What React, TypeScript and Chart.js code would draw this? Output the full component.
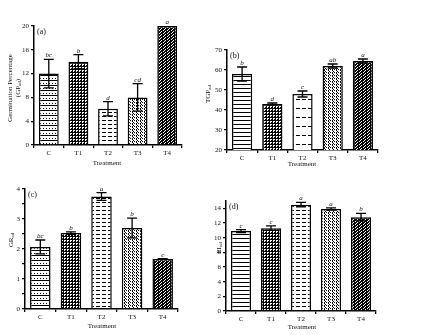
import React, { useEffect, useRef } from 'react';
import { Chart, registerables } from 'chart.js';
Chart.register(...registerables);

const CATEGORIES = ['C', 'T1', 'T2', 'T3', 'T4'];

const GP_VALUES = [12, 14, 6.1, 8, 20];
const GP_ERRORS = [2.4, 1.2, 1.2, 2.3, 0];
const GP_LETTERS = ['bc', 'b', 'd', 'cd', 'a'];
const GP_TICKS = [0, 4, 8, 12, 16, 20];

const TGP_VALUES = [58, 43, 48, 62, 64.5];
const TGP_ERRORS = [3.5, 0.5, 1.5, 1, 1];
const TGP_LETTERS = ['b', 'd', 'c', 'ab', 'a'];
const TGP_TICKS = [20, 30, 40, 50, 60, 70];

const GR_VALUES = [2.07, 2.53, 3.75, 2.7, 1.67];
const GR_ERRORS = [0.23, 0.04, 0.13, 0.33, 0.01];
const GR_LETTERS = ['bc', 'b', 'a', 'b', 'c'];
const GR_TICKS = [0, 0.5, 1, 1.5, 2, 2.5, 3, 3.5, 4];
const GR_TICK_LABELS = ['0', '', '1', '', '2', '', '3', '', '4'];

const EI_VALUES = [10.9, 11.3, 14.5, 13.9, 12.8];
const EI_ERRORS = [0.2, 0.3, 0.3, 0.15, 0.5];
const EI_LETTERS = ['c', 'c', 'a', 'a', 'b'];
const EI_TICKS = [0, 2, 4, 6, 8, 10, 12, 14];

const FONT = '"Liberation Serif", "DejaVu Serif", serif';

type Kind = 'hlines' | 'hlinesdense' | 'checker' | 'dashes' | 'dashessparse' | 'dots' | 'weave';

function makePattern(kind: Kind): CanvasPattern | string {
  const c = document.createElement('canvas');
  const ctx = c.getContext('2d');
  if (!ctx) return '#fff';
  const set = (w: number, h: number) => {
    c.width = w;
    c.height = h;
    ctx.fillStyle = '#fff';
    ctx.fillRect(0, 0, w, h);
    ctx.fillStyle = '#000';
  };
  switch (kind) {
    case 'hlines':
      set(6, 5);
      ctx.fillRect(0, 0, 6, 1);
      ctx.fillRect(1, 3, 1, 1);
      ctx.fillRect(4, 3, 1, 1);
      break;
    case 'hlinesdense':
      set(6, 4);
      ctx.fillRect(0, 0, 6, 1);
      break;
    case 'checker':
      set(3, 3);
      ctx.fillRect(0, 0, 3, 1);
      ctx.fillRect(0, 0, 1, 3);
      ctx.fillRect(2, 2, 1, 1);
      break;
    case 'dashes':
      set(6, 4);
      ctx.fillRect(0, 0, 4, 1);
      break;
    case 'dashessparse':
      set(6, 9);
      ctx.fillRect(0, 0, 4, 1);
      break;
    case 'dots':
      set(4, 3);
      ctx.fillRect(0, 0, 1, 1);
      ctx.fillRect(2, 0, 1, 1);
      ctx.fillRect(1, 2, 1, 1);
      ctx.fillRect(0, 1, 1, 1);
      break;
    case 'weave':
      set(4, 3);
      ctx.fillRect(0, 0, 3, 1);
      ctx.fillRect(2, 1, 2, 1);
      ctx.fillRect(0, 1, 1, 1);
      ctx.fillRect(1, 2, 3, 1);
      break;
  }
  return ctx.createPattern(c, 'repeat') || '#fff';
}

type TitlePart = { t: string; sub?: boolean };

interface PanelProps {
  left: number;
  top: number;
  width: number;
  height: number;
  area: { left: number; right: number; top: number; bottom: number };
  values: number[];
  errors: number[];
  letters: string[];
  ticks: number[];
  tickLabels?: string[];
  min: number;
  max: number;
  label: string;
  yTitleLines: { x: number; y: number; parts: TitlePart[] }[];
  xTitle: { x: number; y: number };
  patterns: Kind[];
}

function drawParts(ctx: CanvasRenderingContext2D, parts: TitlePart[], size: number) {
  let total = 0;
  const widths = parts.map((p) => {
    ctx.font = `${p.sub ? size - 2 : size}px ${FONT}`;
    const w = ctx.measureText(p.t).width;
    total += w;
    return w;
  });
  let x = -total / 2;
  parts.forEach((p, i) => {
    ctx.font = `${p.sub ? size - 2 : size}px ${FONT}`;
    ctx.fillText(p.t, x, p.sub ? 2 : 0);
    x += widths[i];
  });
}

function Panel(props: PanelProps) {
  const ref = useRef<HTMLCanvasElement | null>(null);
  useEffect(() => {
    if (!ref.current) return;
    const p = props;
    const annot = {
      id: 'annot',
      afterDatasetsDraw(chart: any) {
        const ctx: CanvasRenderingContext2D = chart.ctx;
        const ys = chart.scales.y;
        const meta = chart.getDatasetMeta(0);
        ctx.save();
        ctx.strokeStyle = '#000';
        ctx.fillStyle = '#111';
        ctx.lineWidth = 1.3;
        meta.data.forEach((bar: any, i: number) => {
          const v = p.values[i];
          const e = p.errors[i];
          const x = bar.x;
          const yt = ys.getPixelForValue(v + e);
          const yb = ys.getPixelForValue(v - e);
          if (e > 0) {
            ctx.beginPath();
            ctx.moveTo(x, yt);
            ctx.lineTo(x, yb);
            ctx.moveTo(x - 5, yt);
            ctx.lineTo(x + 5, yt);
            ctx.moveTo(x - 5, yb);
            ctx.lineTo(x + 5, yb);
            ctx.stroke();
          }
          ctx.font = `italic 7px ${FONT}`;
          ctx.textAlign = 'center';
          ctx.textBaseline = 'alphabetic';
          ctx.fillText(p.letters[i], x, yt - 2);
        });
        const ca = chart.chartArea;
        ctx.font = `8px ${FONT}`;
        ctx.textAlign = 'left';
        ctx.textBaseline = 'top';
        ctx.fillText(p.label, ca.left + 3, ca.top + 2);
        ctx.textAlign = 'left';
        ctx.textBaseline = 'middle';
        p.yTitleLines.forEach((ln) => {
          ctx.save();
          ctx.translate(ln.x, ln.y);
          ctx.rotate(-Math.PI / 2);
          drawParts(ctx, ln.parts, 7);
          ctx.restore();
        });
        ctx.font = `7px ${FONT}`;
        ctx.textAlign = 'center';
        ctx.fillText('Treatment', p.xTitle.x, p.xTitle.y);
        ctx.restore();
      },
    };
    const chart = new Chart(ref.current, {
      type: 'bar',
      data: {
        labels: CATEGORIES,
        datasets: [
          {
            data: p.values,
            backgroundColor: p.patterns.map((k) => makePattern(k)) as any,
            borderColor: '#000',
            borderWidth: 1.5,
            barPercentage: 0.67,
            categoryPercentage: 1,
          },
        ],
      },
      options: {
        animation: false,
        responsive: false,
        maintainAspectRatio: false,
        events: [],
        layout: {
          padding: {
            left: 0,
            top: p.area.top,
            right: p.width - p.area.right,
            bottom: 0,
          },
        },
        plugins: { legend: { display: false }, tooltip: { enabled: false } },
        scales: {
          x: {
            offset: true,
            grid: { display: true, drawOnChartArea: false, drawTicks: true, tickLength: 3, color: '#000', lineWidth: 1.3 },
            border: { display: true, color: '#000', width: 1.5 },
            ticks: { font: { family: FONT, size: 7 }, color: '#111', padding: 1, maxRotation: 0 },
            afterFit: (s: any) => {
              s.height = p.height - p.area.bottom;
            },
          },
          y: {
            min: p.min,
            max: p.max,
            grid: { display: true, drawOnChartArea: false, drawTicks: true, tickLength: 3, color: '#000', lineWidth: 1.3 },
            border: { display: true, color: '#000', width: 1.5 },
            ticks: {
              font: { family: FONT, size: 7 },
              color: '#111',
              padding: 2,
              callback: (val: any, idx: number) =>
                p.tickLabels ? p.tickLabels[idx] : String(p.ticks[idx]),
            },
            afterBuildTicks: (s: any) => {
              s.ticks = p.ticks.map((v) => ({ value: v }));
            },
            afterFit: (s: any) => {
              s.width = p.area.left;
            },
          },
        },
      },
      plugins: [annot],
    });
    return () => chart.destroy();
  }, []);
  return (
    <canvas
      ref={ref}
      width={props.width}
      height={props.height}
      style={{ position: 'absolute', left: props.left, top: props.top, width: props.width, height: props.height }}
    />
  );
}

export default function App() {
  return (
    <div style={{ position: 'absolute', left: 0, top: 0, width: 444, height: 335, background: '#fff' }}>
      <Panel
        left={0}
        top={0}
        width={200}
        height={170}
        area={{ left: 34, right: 182, top: 26, bottom: 145 }}
        values={GP_VALUES}
        errors={GP_ERRORS}
        letters={GP_LETTERS}
        ticks={GP_TICKS}
        min={0}
        max={20}
        label="(a)"
        yTitleLines={[
          { x: 10, y: 88, parts: [{ t: 'Germination Percentage' }] },
          { x: 18, y: 88, parts: [{ t: '(GP' }, { t: 'ad', sub: true }, { t: ')' }] },
        ]}
        xTitle={{ x: 107, y: 163 }}
        patterns={['hlines', 'checker', 'dashes', 'dots', 'weave']}
      />
      <Panel
        left={200}
        top={0}
        width={244}
        height={170}
        area={{ left: 27, right: 178, top: 50, bottom: 150 }}
        values={TGP_VALUES}
        errors={TGP_ERRORS}
        letters={TGP_LETTERS}
        ticks={TGP_TICKS}
        min={20}
        max={70}
        label="(b)"
        yTitleLines={[{ x: 8, y: 94, parts: [{ t: 'TGP' }, { t: 'ad', sub: true }] }]}
        xTitle={{ x: 102, y: 164 }}
        patterns={['hlinesdense', 'checker', 'dashessparse', 'dots', 'weave']}
      />
      <Panel
        left={0}
        top={170}
        width={200}
        height={165}
        area={{ left: 25, right: 178, top: 19, bottom: 139 }}
        values={GR_VALUES}
        errors={GR_ERRORS}
        letters={GR_LETTERS}
        ticks={GR_TICKS}
        tickLabels={GR_TICK_LABELS}
        min={0}
        max={4}
        label="(c)"
        yTitleLines={[{ x: 11, y: 70, parts: [{ t: 'GR' }, { t: 'ad', sub: true }] }]}
        xTitle={{ x: 102, y: 156 }}
        patterns={['hlines', 'checker', 'dashes', 'dots', 'weave']}
      />
      <Panel
        left={200}
        top={170}
        width={244}
        height={165}
        area={{ left: 26, right: 176, top: 31, bottom: 141 }}
        values={EI_VALUES}
        errors={EI_ERRORS}
        letters={EI_LETTERS}
        ticks={EI_TICKS}
        min={0}
        max={15}
        label="(d)"
        yTitleLines={[{ x: 19, y: 78, parts: [{ t: 'EI' }, { t: 'ad', sub: true }] }]}
        xTitle={{ x: 102, y: 157 }}
        patterns={['hlinesdense', 'checker', 'dashes', 'dots', 'weave']}
      />
    </div>
  );
}
